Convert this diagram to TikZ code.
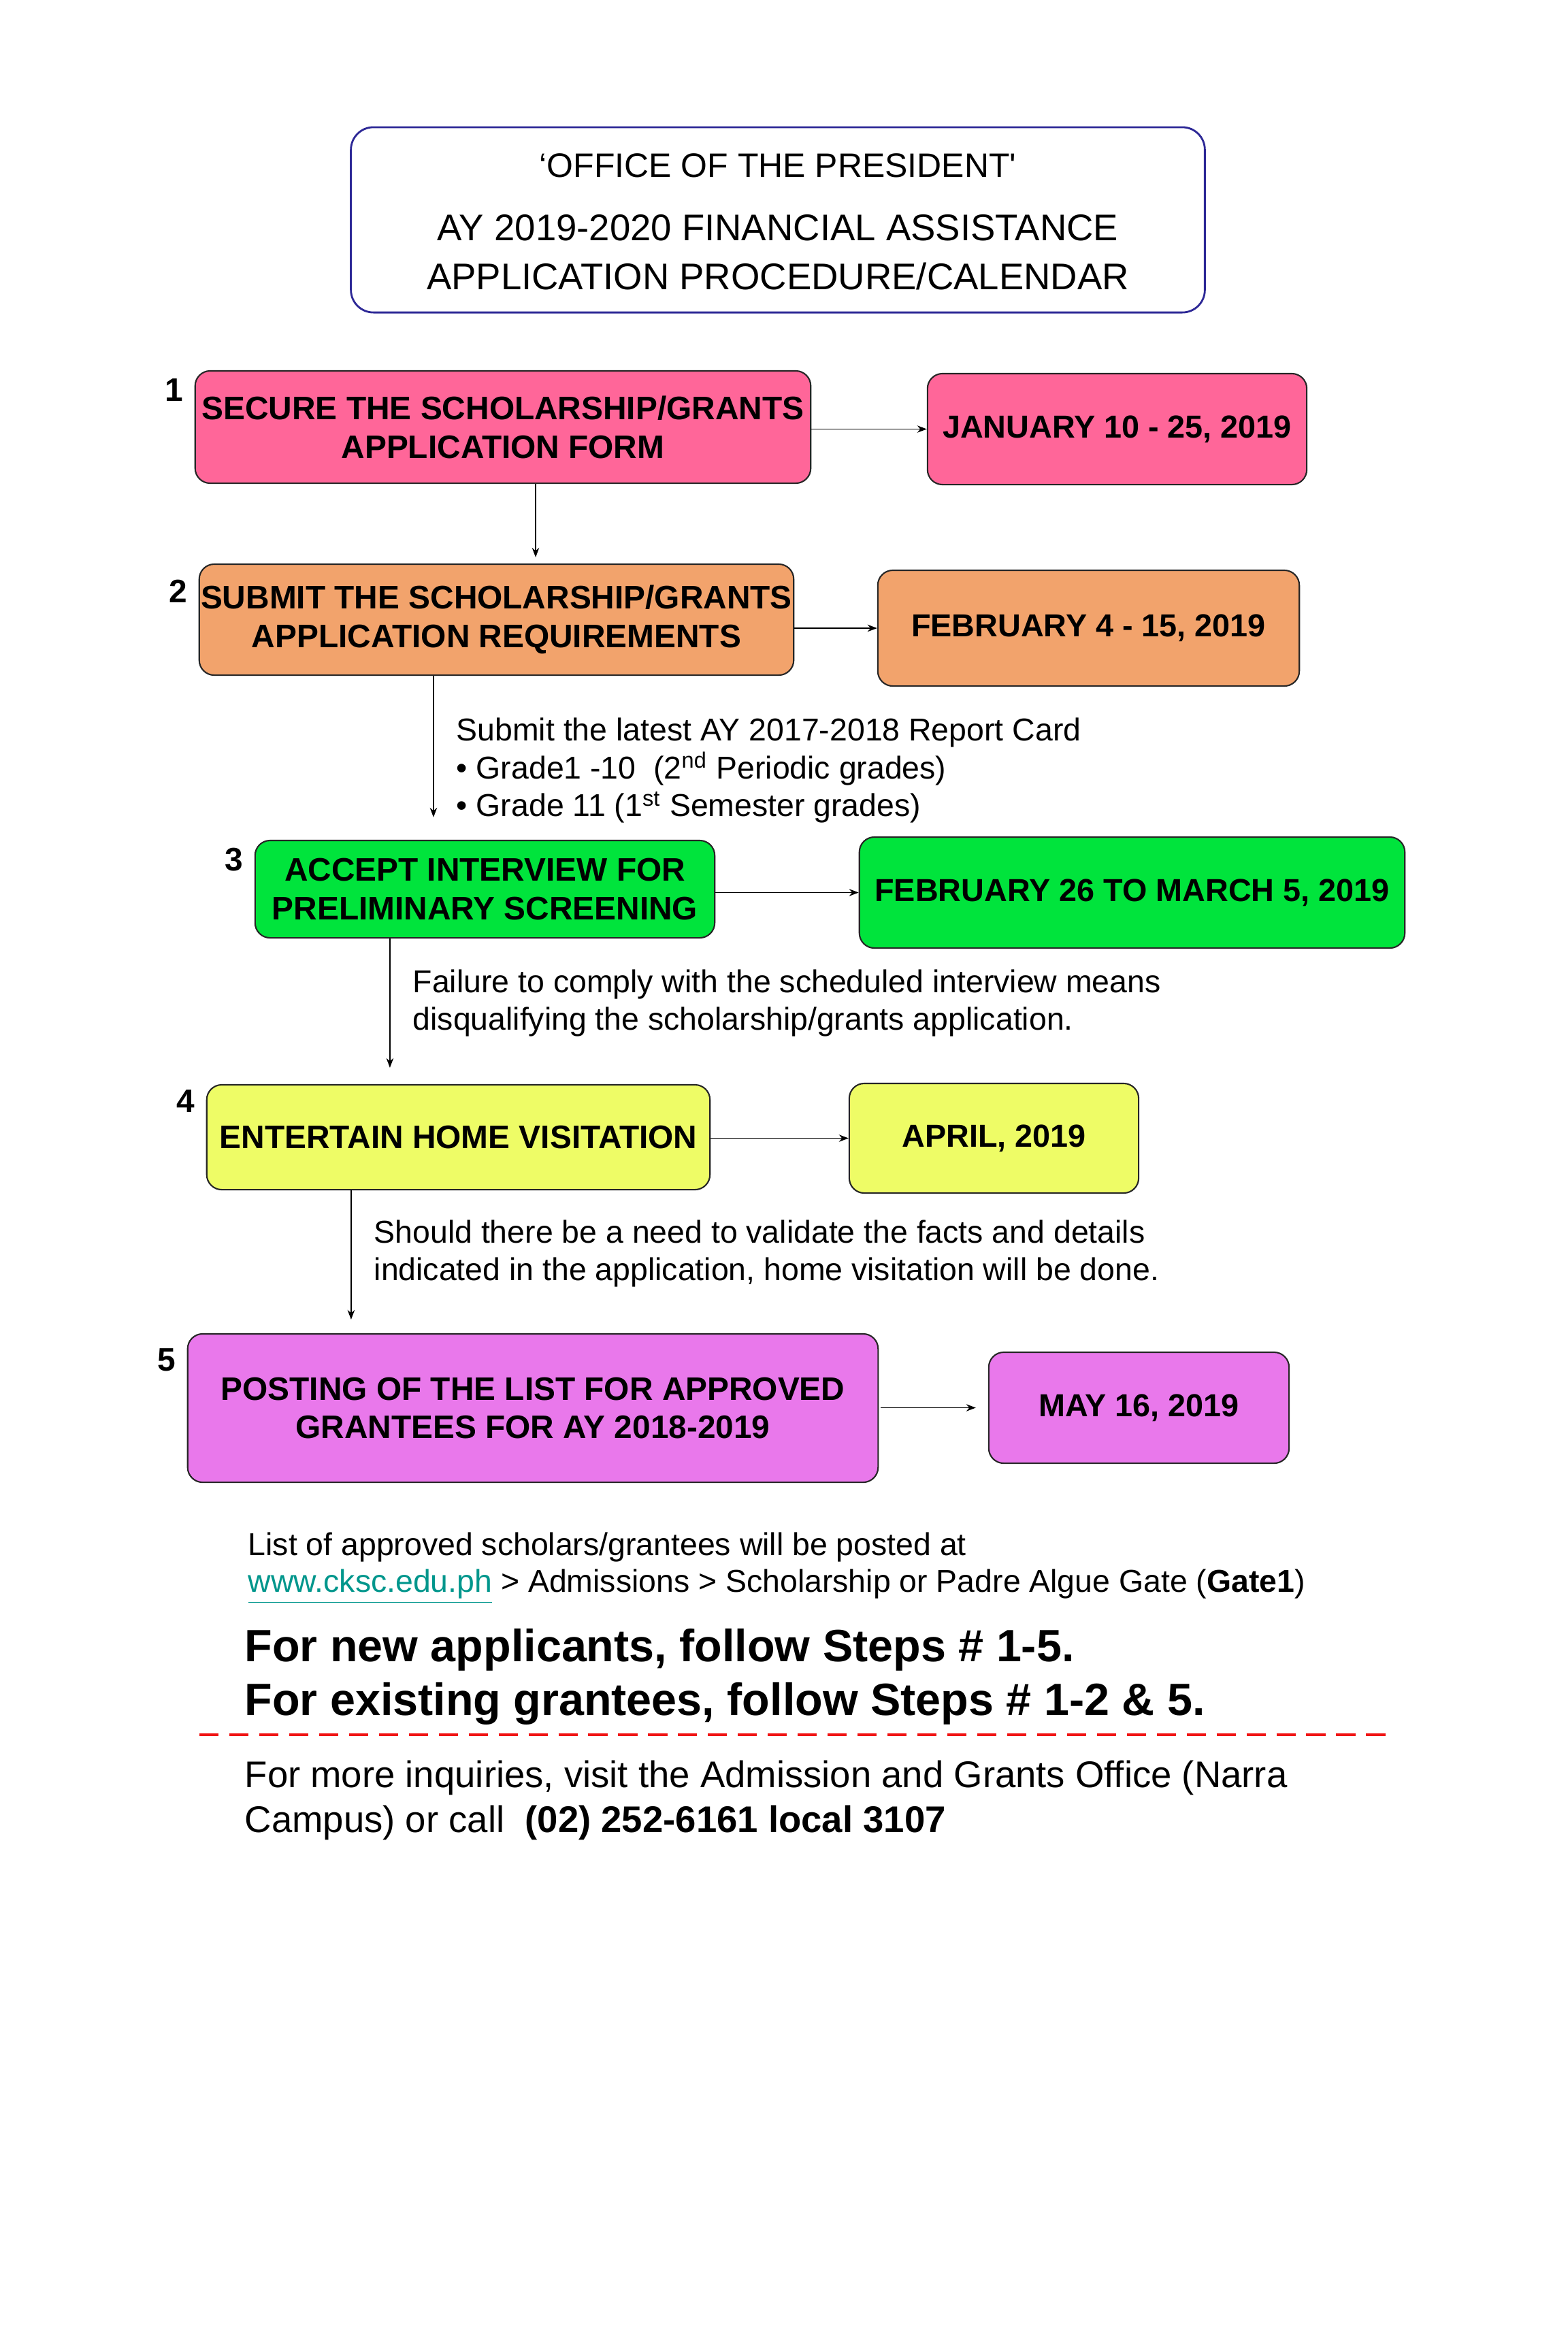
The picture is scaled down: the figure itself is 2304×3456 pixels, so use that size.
\documentclass[tikz,border=0pt]{standalone}
\usepackage{fontspec}
\setmainfont{Liberation Sans}
\newfontfamily\plainf{Liberation Sans}
\usetikzlibrary{arrows.meta}
\definecolor{pinkc}{RGB}{255,102,153}
\definecolor{orangec}{RGB}{242,163,108}
\definecolor{greenc}{RGB}{0,228,60}
\definecolor{yellowc}{RGB}{238,252,102}
\definecolor{magc}{RGB}{233,120,235}
\definecolor{titleb}{RGB}{45,40,150}
\definecolor{linkc}{RGB}{0,150,140}
\definecolor{dashred}{RGB}{240,20,20}
\tikzset{
  stepbox/.style={draw=black!85, line width=0.6pt, rounded corners=0.22cm, inner sep=0pt, align=center,
     font=\fontsize{13.6}{16.2}\selectfont\bfseries},
  datebox/.style={stepbox, font=\fontsize{13.3}{16.2}\selectfont\bfseries},
  numlbl/.style={font=\fontsize{13.6}{16}\selectfont\bfseries, inner sep=0pt},
  note/.style={font=\fontsize{13.2}{15.9}\selectfont, align=left, anchor=west, inner sep=0pt},
  arr/.style={line width=0.35pt, -{Stealth[length=4pt,width=3pt]}},
}
\begin{document}
\begin{tikzpicture}[x=0.01cm,y=-0.01cm]
\useasboundingbox[fill=white] (0,0) rectangle (2304,3456);

% title
\node[draw=titleb, line width=0.8pt, rounded corners=0.33cm, minimum width=12.54cm, minimum height=2.72cm, inner sep=0pt] (title) at (1143,323) {};
\node[font=\fontsize{14.2}{17}\selectfont, inner sep=0pt] (t1) at (1143,243) {‘OFFICE OF THE PRESIDENT{\plainf '}};
\node[font=\fontsize{15.5}{18}\selectfont, inner sep=0pt] (t2) at (1143,335) {AY 2019-2020 FINANCIAL ASSISTANCE};
\node[font=\fontsize{15.5}{18}\selectfont, inner sep=0pt] (t3) at (1143,406) {APPLICATION PROCEDURE/CALENDAR};

% step boxes
\node[stepbox, fill=pinkc, minimum width=9.04cm, minimum height=1.65cm] (b1) at (739,627.5) {SECURE THE SCHOLARSHIP/GRANTS\\APPLICATION FORM};
\node[stepbox, fill=orangec, minimum width=8.73cm, minimum height=1.63cm] (b2) at (729.5,910.5) {SUBMIT THE SCHOLARSHIP/GRANTS\\APPLICATION REQUIREMENTS};
\node[stepbox, fill=greenc, minimum width=6.75cm, minimum height=1.43cm] (b3) at (712.5,1306.5) {ACCEPT INTERVIEW FOR\\PRELIMINARY SCREENING};
\node[stepbox, fill=yellowc, minimum width=7.39cm, minimum height=1.54cm] (b4) at (673.5,1671) {ENTERTAIN HOME VISITATION};
\node[stepbox, fill=magc, minimum width=10.14cm, minimum height=2.18cm] (b5) at (783,2069) {POSTING OF THE LIST FOR APPROVED\\GRANTEES FOR AY 2018-2019};

% date boxes
\node[datebox, fill=pinkc, minimum width=5.57cm, minimum height=1.63cm] (d1) at (1641.5,630.5) {JANUARY 10 - 25, 2019};
\node[datebox, fill=orangec, minimum width=6.19cm, minimum height=1.70cm] (d2) at (1599.5,923) {FEBRUARY 4 - 15, 2019};
\node[datebox, fill=greenc, minimum width=8.01cm, minimum height=1.63cm] (d3) at (1663.5,1311.5) {FEBRUARY 26 TO MARCH 5, 2019};
\node[datebox, fill=yellowc, minimum width=4.25cm, minimum height=1.61cm] (d4) at (1460.5,1672.5) {APRIL, 2019};
\node[datebox, fill=magc, minimum width=4.41cm, minimum height=1.63cm] (d5) at (1673.5,2068.5) {MAY 16, 2019};

% numbers
\node[numlbl] (n1) at (256,573) {1};
\node[numlbl] (n2) at (262,869) {2};
\node[numlbl] (n3) at (344,1263) {3};
\node[numlbl] (n4) at (273,1618) {4};
\node[numlbl] (n5) at (245,1998) {5};

% horizontal arrows
\draw[arr] (b1.east |- d1.west) -- (d1.west);
\draw[arr] (b2.east |- d2.west) -- (d2.west);
\draw[arr] (b3.east |- d3.west) -- (d3.west);
\draw[arr] (b4.east |- d4.west) -- (d4.west);
\draw[arr, shorten >=0.18cm] ([xshift=0.03cm]b5.east |- d5.west) -- (d5.west);

% vertical arrows
\draw[arr, shorten >=0.09cm] ([xshift=0.48cm]b1.south) -- ([xshift=0.48cm]b1.south |- b2.north);
\draw[arr, shorten >=0.33cm] ([xshift=-0.925cm]b2.south) -- ([xshift=-0.925cm]b2.south |- b3.north);
\draw[arr, shorten >=0.24cm] ([xshift=-1.395cm]b3.south) -- ([xshift=-1.395cm]b3.south |- b4.north);
\draw[arr, shorten >=0.20cm] ([xshift=-1.575cm]b4.south) -- ([xshift=-1.575cm]b4.south |- b5.north);

% notes
\node[note] (m2) at (670,1132) {Submit the latest AY 2017-2018 Report Card\\
• Grade1 -10\ \ (2\textsuperscript{nd} Periodic grades)\\
• Grade 11 (1\textsuperscript{st} Semester grades)};
\node[note] (m3) at (606,1474) {Failure to comply with the scheduled interview means\\disqualifying the scholarship/grants application.};
\node[note] (m4) at (549,1842) {Should there be a need to validate the facts and details\\indicated in the application, home visitation will be done.};
\node[note, font=\fontsize{13.2}{15.6}\selectfont] (m5) at (364,2304) {List of approved scholars/grantees will be posted at\\
\textcolor{linkc}{\underline{www.cksc.edu.ph}} > Admissions > Scholarship or Padre Algue Gate (\textbf{Gate1})};
\node[note, font=\fontsize{18.9}{22.5}\selectfont\bfseries] (steps) at (359,2464) {For new applicants, follow Steps \# 1-5.\\For existing grantees, follow Steps \# 1-2 \& 5.};

\draw[dashred, line width=1.4pt, dash pattern=on 8pt off 4.5pt] (293,2549) -- (2039,2549);

\node[note, font=\fontsize{15.5}{18.8}\selectfont] (inq) at (359,2645) {For more inquiries, visit the Admission and Grants Office (Narra\\Campus) or call\ \ \textbf{(02) 252-6161 local 3107}};
\end{tikzpicture}
\end{document}
